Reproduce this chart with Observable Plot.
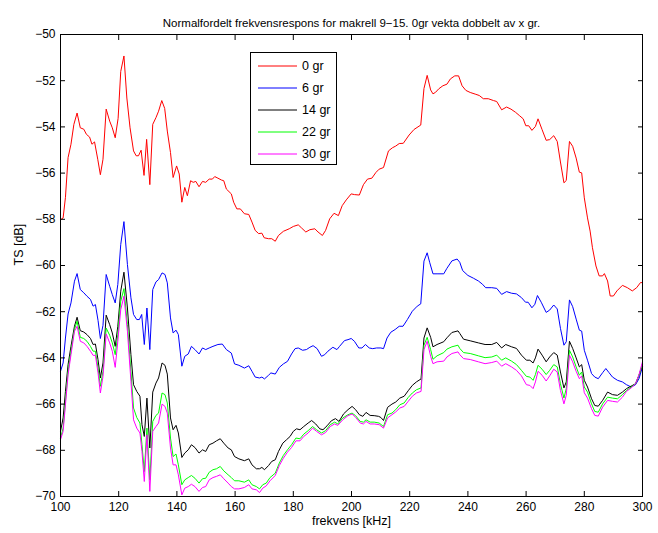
<!DOCTYPE html>
<html>
<head>
<meta charset="utf-8">
<script src="https://cdn.jsdelivr.net/npm/d3@7"></script>
<script src="https://cdn.jsdelivr.net/npm/@observablehq/plot@0.6"></script>
<style>
  body { margin: 0; background: white; }
  #wrap { position: relative; width: 658px; height: 533px; font-family: "Liberation Sans", Arial, sans-serif; }
  #legend { position: absolute; left: 250px; top: 52px; width: 87px; height: 113px; border: 1px solid #000; background: #fff; box-sizing: border-box; }
  .row { position: absolute; left: 0; height: 16px; display: flex; align-items: center; font-size: 12.5px; color: #000; }
  .row svg { margin-left: 7px; margin-right: 5px; }
</style>
</head>
<body>
<div id="wrap"></div>
<script>
const titleText = "Normalfordelt frekvensrespons for makrell 9\u221215. 0gr vekta dobbelt av x gr.";
const xLabel = "frekvens [kHz]";
const yLabel = "TS [dB]";
const xTicks = [100,120,140,160,180,200,220,240,260,280,300];
const yTicks = [-70,-68,-66,-64,-62,-60,-58,-56,-54,-52,-50];
const seriesNames = ["0 gr","6 gr","14 gr","22 gr","30 gr"];
const seriesColors = ["#ff0000","#0000ff","#000000","#00ff00","#ff00ff"];

const gr0 = [[100,-58.02],[100.9,-57.94],[101.7,-57.05],[102.6,-55.33],[103.6,-54.75],[104.6,-53.89],[105.7,-53.4],[106.8,-54.04],[108,-54.1],[108.9,-54.32],[110,-54.44],[110.8,-54.75],[111.7,-54.65],[112.8,-55.4],[113.7,-56.07],[114.6,-55.4],[115.7,-53.23],[116.9,-53.75],[117.8,-54.04],[118.8,-54.47],[119.8,-53.63],[120.7,-51.6],[121.8,-50.93],[122.8,-52.75],[123.9,-54.04],[125.1,-55.04],[126,-55.25],[126.8,-55.25],[127.7,-55.01],[128.7,-56.1],[129.6,-54.54],[130.7,-56.5],[131.7,-53.89],[132.8,-53.6],[133.7,-53.32],[134.8,-52.86],[135.8,-53.2],[136.7,-54.18],[137.8,-55.11],[138.7,-56.19],[139.9,-55.69],[140.8,-56.04],[141.7,-57.26],[142.7,-56.62],[143.6,-56.98],[144.7,-56.33],[145.6,-56.4],[146.5,-56.36],[147.6,-56.59],[148.8,-56.36],[149.9,-56.4],[151.1,-56.26],[152.2,-56.26],[153,-56.15],[154.1,-56.22],[155.3,-56.3],[156.1,-56.33],[157,-56.69],[158.7,-56.9],[159.5,-57.26],[160.6,-57.55],[161.8,-57.55],[163.2,-57.76],[164.7,-57.79],[165.8,-58.12],[166.9,-58.48],[168.1,-58.62],[169.2,-58.6],[170,-58.8],[171.5,-58.84],[172.6,-58.84],[173.8,-58.95],[174.9,-58.7],[176.6,-58.52],[178.6,-58.41],[180,-58.31],[181.7,-58.24],[182.8,-58.37],[184.3,-58.55],[185.7,-58.45],[187.4,-58.41],[188.5,-58.55],[190,-58.7],[191.1,-58.48],[192.5,-57.98],[194,-57.74],[195.5,-57.84],[196.8,-57.41],[198.2,-57.16],[199.9,-56.9],[201,-56.93],[202.7,-56.95],[204.1,-56.5],[205.5,-56.26],[207,-56.22],[208.4,-55.97],[209.5,-55.83],[211,-55.76],[212.7,-55.04],[214.1,-54.9],[215.2,-54.83],[216.4,-54.72],[217.8,-54.71],[219.8,-54.35],[221.5,-54.11],[223.8,-53.92],[224.9,-52.34],[226,-51.77],[227.2,-52.4],[228,-52.57],[228.9,-52.5],[230,-52.35],[231.4,-52.22],[232.8,-52.15],[234,-51.92],[235.5,-51.79],[236.8,-51.79],[238,-52.22],[239.3,-52.42],[240.8,-52.51],[242.5,-52.58],[243.9,-52.64],[245.3,-52.78],[247,-52.78],[248.8,-52.86],[249.9,-52.9],[251.6,-53.26],[253.3,-53.14],[254.8,-53.23],[256.4,-53.37],[257.8,-53.52],[259,-53.65],[259.9,-53.95],[260.9,-53.95],[262,-54.15],[263.2,-53.98],[264.1,-53.65],[265.5,-54.12],[266.9,-54.58],[268.1,-54.55],[269.5,-54.38],[270.7,-54.63],[271.8,-55.52],[273,-56.42],[273.8,-56.32],[274.9,-54.63],[276,-54.84],[277.2,-55.35],[278.3,-55.96],[279.1,-55.99],[280,-57.07],[281.1,-57.94],[282,-58.51],[282.8,-59.23],[284,-60.02],[285.1,-60.45],[286.3,-60.45],[286.9,-60.35],[288,-60.67],[288.9,-61.32],[290,-61.32],[291.2,-61.1],[293.1,-60.86],[294.8,-60.96],[296.5,-61.1],[298,-60.96],[299.3,-60.74],[300,-60.74]];

const gr6 = [[100,-64.58],[100.9,-64.22],[101.7,-63.14],[102.6,-62.1],[103.6,-61.62],[104.8,-60.68],[105.7,-60.35],[106.8,-61.04],[108,-61.18],[109.1,-61.33],[110.3,-61.47],[111.2,-61.76],[112,-61.69],[112.9,-62.38],[113.7,-63.16],[114.6,-62.59],[115.7,-60.39],[116.9,-60.9],[117.8,-61.26],[118.8,-61.62],[119.7,-60.82],[120.7,-59.09],[121.8,-58.1],[123,-59.96],[124.2,-61.4],[125.1,-62.12],[126.2,-62.34],[127.1,-62.34],[127.9,-62.12],[128.8,-63.42],[129.7,-61.84],[130.7,-63.64],[131.7,-61.04],[132.8,-60.71],[133.7,-60.61],[134.9,-60.32],[135.9,-60.39],[136.7,-60.75],[137.8,-62.27],[138.7,-62.92],[139.7,-62.8],[140.5,-62.99],[141.7,-64.36],[142.7,-63.93],[143.9,-63.83],[145,-63.5],[146.2,-63.64],[147.6,-63.83],[148.8,-63.57],[149.9,-63.64],[151.1,-63.57],[152.4,-63.5],[154.1,-63.42],[155.6,-63.4],[157,-63.64],[158.7,-63.79],[159.8,-64.26],[161.3,-64.32],[163.2,-64.44],[164.7,-64.34],[165.8,-64.58],[166.9,-64.83],[168.4,-64.87],[169.2,-64.83],[170.1,-64.91],[171.5,-64.75],[172.3,-64.65],[173.8,-64.7],[175.2,-64.41],[176.6,-64.26],[178,-64.15],[179.4,-63.83],[180.6,-63.6],[181.7,-63.57],[183.2,-63.67],[184.5,-63.64],[185.7,-63.54],[186.8,-63.47],[188.2,-63.6],[189.7,-63.93],[190.8,-63.86],[191.9,-63.71],[193.6,-63.54],[195,-63.64],[195.9,-63.5],[197.6,-63.25],[198.8,-63.21],[199.9,-63.16],[201,-63.28],[202.5,-63.57],[203.6,-63.57],[204.8,-63.42],[206.1,-63.57],[207.3,-63.6],[208.6,-63.57],[210.1,-63.57],[211,-63.6],[212.2,-63.14],[213.5,-62.89],[215,-62.77],[216.4,-62.63],[217.7,-62.63],[219.2,-62.34],[220.9,-61.98],[222.6,-61.76],[223.8,-61.66],[224.9,-59.81],[226,-59.45],[226.9,-59.88],[228,-60.36],[229.4,-60.36],[231.7,-60.36],[232.8,-60.12],[234.5,-59.8],[236.3,-59.72],[237.2,-59.86],[238.2,-60.22],[240,-60.43],[241.9,-60.55],[243.6,-60.67],[245,-60.81],[246.1,-60.96],[248.2,-60.96],[249.9,-60.99],[251.6,-61.25],[253.3,-61.13],[255,-61.2],[256.7,-61.23],[258.4,-61.39],[259.8,-61.59],[260.7,-61.59],[262,-61.83],[263,-61.68],[263.9,-61.3],[265.2,-61.59],[266.9,-62.03],[268.1,-61.93],[269.5,-61.71],[270.7,-61.88],[271.8,-62.72],[273,-63.45],[273.8,-63.3],[274.9,-61.49],[276,-61.78],[277.2,-62.32],[278.3,-62.8],[279.1,-62.84],[280,-63.67],[281.1,-64.1],[282.5,-64.68],[283.6,-64.83],[284.8,-64.9],[286.3,-64.64],[287.4,-64.46],[288.5,-64.64],[289.7,-64.83],[291.4,-64.97],[293.1,-65.04],[294.5,-65.16],[296.1,-65.26],[297.6,-65.16],[298.8,-64.9],[300,-64.39]];

const gr14 = [[100,-67.18],[100.9,-66.6],[101.7,-65.45],[102.6,-64.29],[103.6,-63.5],[104.8,-62.63],[105.7,-62.24],[106.8,-62.82],[108,-62.88],[109.1,-62.99],[110.3,-63.16],[111.2,-63.42],[112,-63.4],[112.9,-64.08],[113.7,-64.87],[114.6,-64.22],[115.7,-62.15],[116.9,-62.56],[117.8,-62.92],[118.8,-63.5],[119.7,-62.63],[120.7,-61.11],[121.8,-60.29],[123,-61.84],[124.2,-63.86],[125.1,-65.16],[126.2,-65.45],[127.3,-65.66],[128,-66.89],[128.8,-67.4],[129.7,-65.74],[130.7,-67.9],[131.7,-65.48],[132.8,-65.09],[133.7,-64.87],[134.9,-64.22],[135.9,-64.32],[136.7,-64.7],[137.8,-66.6],[138.7,-67.11],[139.7,-66.92],[140.5,-67.25],[141.7,-68.31],[142.7,-68.12],[143.9,-67.98],[145,-67.76],[146.2,-67.88],[147.6,-68.12],[148.8,-67.98],[149.9,-68.05],[151.1,-67.76],[152.4,-67.69],[153.6,-67.59],[154.9,-67.5],[156.1,-67.69],[157.6,-67.9],[158.7,-67.98],[159.8,-68.27],[161.3,-68.37],[163.2,-68.45],[164.7,-68.37],[165.8,-68.63],[167.3,-68.8],[168.4,-68.8],[169.2,-68.74],[170.1,-68.84],[171.5,-68.66],[172.6,-68.48],[173.8,-68.41],[174.9,-68.05],[176.4,-67.69],[177.7,-67.54],[178.9,-67.4],[180,-67.18],[181.1,-67.07],[182.3,-67.11],[183.6,-66.97],[185.1,-66.82],[186.3,-66.71],[187.7,-66.86],[189.1,-67.07],[190.2,-67.11],[191.6,-66.94],[193.1,-66.72],[194.5,-66.63],[195.7,-66.75],[197.3,-66.42],[198.8,-66.24],[200.2,-66.1],[201.4,-66.24],[202.7,-66.46],[203.9,-66.53],[205,-66.36],[206.4,-66.49],[207.8,-66.5],[209.3,-66.53],[210.1,-66.58],[211,-66.71],[212.4,-66.14],[213.9,-66],[215.2,-65.91],[216.6,-65.74],[218.1,-65.66],[219.5,-65.42],[220.9,-65.19],[222.3,-65.04],[223.9,-64.91],[224.9,-63.14],[226,-62.7],[227.2,-63.11],[228,-63.52],[229.4,-63.42],[231.7,-63.3],[232.8,-63.13],[234.5,-62.9],[236.6,-62.83],[237.2,-62.94],[238.5,-63.19],[240.8,-63.26],[243.6,-63.35],[245.9,-63.42],[248.2,-63.42],[249.9,-63.33],[251.6,-63.57],[253,-63.42],[255,-63.52],[256.7,-63.59],[258.4,-63.88],[260.1,-64.1],[261.3,-64.1],[262.4,-64.22],[263.2,-64],[264.1,-63.62],[265.5,-63.88],[266.9,-64.17],[268.1,-63.96],[269.5,-63.77],[270.7,-63.88],[271.8,-64.61],[273,-65.3],[273.8,-65.04],[274.9,-63.28],[276,-63.59],[277.2,-64],[278.3,-64.39],[279.1,-64.29],[280,-64.97],[281.1,-65.26],[282.5,-65.77],[283.6,-66.06],[284.8,-66.09],[286.3,-65.84],[288,-65.48],[289.7,-65.59],[291.4,-65.62],[293.1,-65.48],[294.5,-65.33],[296.1,-65.22],[297.6,-65.12],[298.8,-64.75],[300,-64.32]];

const gr22 = [[100,-67.47],[100.9,-67.04],[101.7,-65.88],[102.6,-64.58],[103.6,-63.71],[104.8,-62.77],[105.7,-62.41],[106.8,-63.11],[108,-63.16],[109.1,-63.28],[110.3,-63.5],[111.2,-63.71],[112,-63.71],[112.9,-64.44],[113.7,-65.23],[114.6,-64.58],[115.7,-62.71],[116.9,-63.02],[117.8,-63.35],[118.8,-63.86],[119.7,-62.99],[120.7,-61.55],[121.8,-61],[123,-62.56],[124.2,-64.58],[125.1,-66.17],[126.2,-66.58],[127.3,-66.82],[128,-67.76],[128.8,-68.92],[129.7,-67.04],[130.7,-69.28],[131.7,-66.75],[132.8,-66.49],[133.7,-66.39],[134.9,-65.52],[135.9,-65.59],[136.7,-65.95],[137.8,-67.47],[138.7,-68.27],[139.7,-68.16],[140.5,-68.63],[141.7,-69.49],[142.7,-69.28],[143.9,-69.18],[145,-69.09],[146.2,-69.21],[147.6,-69.42],[148.8,-69.23],[149.9,-69.21],[151.1,-68.95],[152.4,-68.84],[153.6,-68.8],[154.9,-68.7],[156.1,-68.89],[157.6,-69.06],[158.7,-69.18],[159.8,-69.32],[161.3,-69.32],[163.2,-69.38],[164.7,-69.28],[165.8,-69.49],[167.3,-69.57],[168.4,-69.67],[169.5,-69.49],[170.7,-69.42],[172,-69.18],[173.8,-68.99],[175.2,-68.55],[176.6,-68.22],[178,-67.98],[179.4,-67.76],[180.9,-67.47],[182.3,-67.5],[183.6,-67.3],[185.1,-67.15],[186.6,-66.97],[188,-67.11],[189.7,-67.25],[191.1,-67.15],[192.7,-66.89],[194.2,-66.78],[195.3,-66.86],[197,-66.6],[198.8,-66.46],[200.2,-66.39],[201.4,-66.5],[203,-66.75],[204.1,-66.78],[205,-66.68],[206.4,-66.78],[207.8,-66.78],[209.5,-66.82],[211,-66.97],[212.4,-66.46],[213.9,-66.39],[215.2,-66.24],[216.6,-66.03],[218.1,-65.95],[219.5,-65.71],[220.9,-65.52],[222.3,-65.38],[223.9,-65.3],[224.9,-63.45],[226,-63.11],[227.2,-63.64],[228,-64.06],[229.4,-63.91],[231.7,-63.77],[232.8,-63.62],[234.5,-63.52],[236.6,-63.45],[237.2,-63.59],[238.5,-63.77],[240.8,-63.81],[243.6,-63.91],[245.9,-63.99],[248.2,-63.96],[249.9,-63.88],[251.6,-64.1],[253,-64],[255,-64.14],[256.7,-64.29],[258.4,-64.54],[260.1,-64.8],[261.3,-64.83],[262.4,-64.97],[263.2,-64.72],[264.1,-64.32],[265.5,-64.49],[266.9,-64.72],[268.1,-64.54],[269.5,-64.29],[270.7,-64.39],[271.8,-65.12],[273,-65.74],[273.8,-65.33],[274.9,-63.67],[276,-63.96],[277.2,-64.39],[278.3,-64.75],[279.1,-64.61],[280,-65.26],[281.1,-65.48],[282.5,-65.99],[283.6,-66.32],[284.8,-66.35],[286.3,-65.99],[288,-65.7],[289.7,-65.74],[291.4,-65.77],[293.1,-65.59],[294.5,-65.41],[296.1,-65.26],[297.6,-65.12],[298.8,-64.75],[300,-64.25]];

const gr30 = [[100,-67.54],[100.9,-67.18],[101.7,-66.03],[102.6,-64.73],[103.6,-63.86],[104.8,-62.85],[105.7,-62.63],[106.8,-63.28],[108,-63.35],[109.1,-63.5],[110.3,-63.71],[111.2,-63.89],[112,-63.89],[112.9,-64.65],[113.7,-65.52],[114.6,-64.8],[115.7,-62.96],[116.9,-63.35],[117.8,-63.71],[118.8,-64.41],[119.7,-63.28],[120.7,-61.91],[121.8,-61.33],[123,-62.85],[124.2,-65.01],[125.1,-66.68],[126.2,-67.04],[127.3,-67.25],[128,-68.05],[128.8,-69.35],[129.7,-67.33],[130.7,-69.78],[131.7,-67.18],[132.8,-66.97],[133.7,-66.82],[134.9,-66],[135.9,-66.1],[136.7,-66.39],[137.8,-67.9],[138.7,-68.63],[139.7,-68.63],[140.5,-69.06],[141.7,-69.93],[142.7,-69.64],[143.9,-69.57],[145,-69.47],[146.2,-69.57],[147.6,-69.78],[148.8,-69.61],[149.9,-69.57],[151.1,-69.28],[152.4,-69.18],[153.6,-69.13],[154.9,-69.06],[156.1,-69.23],[157.6,-69.42],[158.7,-69.57],[159.8,-69.67],[161.3,-69.67],[163.2,-69.61],[164.7,-69.49],[165.8,-69.67],[167.3,-69.71],[168.4,-69.83],[169.5,-69.64],[170.7,-69.54],[172,-69.32],[173.8,-69.09],[175.2,-68.66],[176.6,-68.34],[178,-68.08],[179.4,-67.88],[180.9,-67.59],[182.3,-67.59],[183.6,-67.4],[185.1,-67.25],[186.6,-67.04],[188,-67.18],[189.7,-67.33],[191.1,-67.23],[192.7,-66.97],[194.2,-66.86],[195.3,-66.92],[197,-66.68],[198.8,-66.5],[200.2,-66.43],[201.4,-66.57],[203,-66.82],[204.1,-66.86],[205,-66.75],[206.4,-66.86],[207.8,-66.86],[209.5,-66.89],[211,-67.04],[212.4,-66.6],[213.9,-66.46],[215.2,-66.34],[216.6,-66.17],[218.1,-66.1],[219.5,-65.88],[220.9,-65.66],[222.3,-65.52],[223.9,-65.45],[224.9,-63.64],[226,-63.28],[227.2,-63.93],[228,-64.25],[229.4,-64.17],[231.7,-64.14],[232.8,-63.96],[234.5,-63.81],[236.6,-63.74],[237.2,-63.86],[238.5,-64.03],[240.8,-64.07],[243.6,-64.17],[245.9,-64.25],[248.2,-64.2],[249.9,-64.14],[251.6,-64.36],[253,-64.25],[255,-64.39],[256.7,-64.54],[258.4,-64.78],[260.1,-65.16],[261.3,-65.19],[262.4,-65.33],[263.2,-65.04],[264.1,-64.58],[265.5,-64.75],[266.9,-65],[268.1,-64.78],[269.5,-64.49],[270.7,-64.61],[271.8,-65.41],[273,-65.99],[273.8,-65.62],[274.9,-63.88],[276,-64.17],[277.2,-64.58],[278.3,-64.9],[279.1,-64.78],[280,-65.51],[281.1,-65.74],[282.5,-66.2],[283.6,-66.49],[284.8,-66.52],[286.3,-66.13],[288,-65.84],[289.7,-65.88],[291.4,-65.91],[293.1,-65.7],[294.5,-65.45],[296.1,-65.3],[297.6,-65.12],[298.8,-64.72],[300,-64.17]];

const series = [gr0, gr6, gr14, gr22, gr30];

const chart = Plot.plot({
  width: 658,
  height: 533,
  marginLeft: 60,
  marginRight: 16,
  marginTop: 34,
  marginBottom: 37,
  style: { fontFamily: "'Liberation Sans', Arial, sans-serif", fontSize: "12px", background: "white", color: "black" },
  x: { domain: [100, 300] },
  y: { domain: [-70, -50] },
  marks: [
    ...series.map((s, i) => Plot.line(s, { x: d => d[0], y: d => d[1], stroke: seriesColors[i], strokeWidth: 1 })),
    Plot.frame({ stroke: "black", strokeWidth: 1 }),
    Plot.axisX({ ticks: xTicks, anchor: "bottom", tickSize: -5, tickPadding: 11, label: null, fontSize: 12 }),
    Plot.axisX({ ticks: xTicks, anchor: "top", tickSize: -5, text: null, label: null }),
    Plot.axisY({ ticks: yTicks, anchor: "left", tickSize: -5, tickPadding: 10, label: null, fontSize: 12 }),
    Plot.axisY({ ticks: yTicks, anchor: "right", tickSize: -5, text: null, label: null }),
    Plot.text([titleText], { frameAnchor: "top", dy: -16, fontSize: 11.5 }),
    Plot.text([xLabel], { frameAnchor: "bottom", dy: 28, fontSize: 12.5 }),
    Plot.text([yLabel], { frameAnchor: "left", dx: -42, rotate: -90, fontSize: 12.5 })
  ]
});

const wrap = document.getElementById("wrap");
wrap.appendChild(chart);

const legend = document.createElement("div");
legend.id = "legend";
seriesNames.forEach((name, i) => {
  const row = document.createElement("div");
  row.className = "row";
  row.style.top = (5 + i * 22) + "px";
  row.innerHTML = `<svg width="39" height="4"><line x1="0" y1="2" x2="39" y2="2" stroke="${seriesColors[i]}" stroke-width="1"/></svg><span>${name}</span>`;
  legend.appendChild(row);
});
wrap.appendChild(legend);
</script>
</body>
</html>
